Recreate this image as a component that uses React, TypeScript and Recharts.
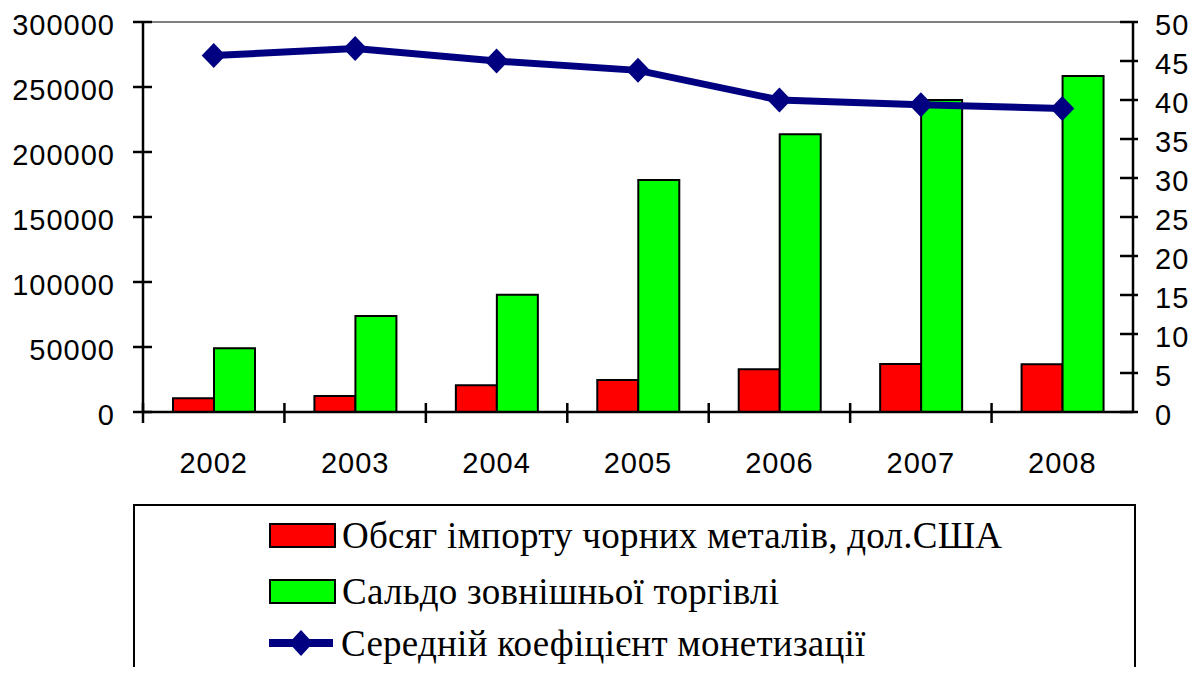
import React from 'react';
import { ComposedChart, Bar, Line, XAxis, YAxis, ReferenceLine } from 'recharts';

const years = ['2002', '2003', '2004', '2005', '2006', '2007', '2008'];
const importValues = [10500, 12300, 20500, 24600, 32800, 36900, 36700];
const balanceValues = [49000, 73900, 90200, 178500, 213600, 240000, 258500];
const monetization = [45.7, 46.6, 45.0, 43.8, 40.0, 39.4, 38.9];
const leftTicks = [0, 50000, 100000, 150000, 200000, 250000, 300000];
const rightTicks = [0, 5, 10, 15, 20, 25, 30, 35, 40, 45, 50];
const seriesNames = [
  'Обсяг імпорту чорних металів, дол.США',
  'Сальдо зовнішньої торгівлі',
  'Середній коефіцієнт монетизації',
];

const data = years.map((y, i) => ({
  year: y,
  imp: importValues[i],
  bal: balanceValues[i],
  mon: monetization[i],
}));

const AXIS_FONT = '"Liberation Sans", Arial, sans-serif';

const LeftTick = (props: any) => {
  const { x, y, payload } = props;
  return (
    <g>
      <line x1={x - 10} x2={x + 9} y1={y} y2={y} stroke="#000" strokeWidth={2.5} />
      <text x={x - 28} y={y + 13} textAnchor="end" fontSize={29} letterSpacing={1} fontFamily={AXIS_FONT} fill="#000">
        {payload.value}
      </text>
    </g>
  );
};

const RightTick = (props: any) => {
  const { x, y, payload } = props;
  return (
    <g>
      <line x1={x - 13} x2={x + 5} y1={y} y2={y} stroke="#000" strokeWidth={2.5} />
      <text x={x + 22} y={y + 13} textAnchor="start" fontSize={29} letterSpacing={1} fontFamily={AXIS_FONT} fill="#000">
        {payload.value}
      </text>
    </g>
  );
};

const BottomTick = (props: any) => {
  const { x, y, payload } = props;
  const half = payload.offset || 70.7;
  return (
    <g>
      <line x1={x - half} x2={x - half} y1={y - 9} y2={y + 11} stroke="#000" strokeWidth={2.5} />
      <text x={x} y={y + 61} textAnchor="middle" fontSize={29} letterSpacing={1} fontFamily={AXIS_FONT} fill="#000">
        {payload.value}
      </text>
    </g>
  );
};

const Diamond = (props: any) => {
  const { cx, cy } = props;
  if (cx == null || cy == null) return null;
  return (
    <path
      d={`M${cx - 12},${cy} L${cx},${cy - 12.5} L${cx + 12},${cy} L${cx},${cy + 12.5} Z`}
      fill="#000080"
      stroke="none"
    />
  );
};

const LegendBox = () => {
  const rowStyle: React.CSSProperties = {
    position: 'absolute',
    left: 0,
    height: 40,
    display: 'flex',
    alignItems: 'center',
  };
  const textStyle: React.CSSProperties = {
    fontFamily: '"Liberation Serif", "Times New Roman", serif',
    fontSize: 37,
    letterSpacing: 0.25,
    color: '#000',
    whiteSpace: 'nowrap',
    marginLeft: 6,
  };
  return (
    <div
      style={{
        position: 'absolute',
        left: 133,
        top: 504,
        width: 1003,
        height: 200,
        border: '2px solid #000',
        boxSizing: 'border-box',
        background: '#fff',
      }}
    >
      <div style={{ position: 'absolute', left: 134, top: 10, width: 860, height: 170 }}>
        <div style={{ ...rowStyle, top: -0.5 }}>
          <div style={{ width: 63, height: 21, background: '#FF0000', border: '2px solid #000' }} />
          <span style={textStyle}>{seriesNames[0]}</span>
        </div>
        <div style={{ ...rowStyle, top: 55.5 }}>
          <div style={{ width: 63, height: 21, background: '#00FF00', border: '2px solid #000' }} />
          <span style={textStyle}>{seriesNames[1]}</span>
        </div>
        <div style={{ ...rowStyle, top: 107 }}>
          <svg width={67} height={28}>
            <line x1={0} x2={64} y1={14} y2={14} stroke="#000080" strokeWidth={8} />
            <path d="M20,14 L32,1 L44,14 L32,27 Z" fill="#000080" />
          </svg>
          <span style={{ ...textStyle, marginLeft: 5 }}>{seriesNames[2]}</span>
        </div>
      </div>
    </div>
  );
};

export default function App() {
  return (
    <div style={{ position: 'relative', margin: -8, width: 1196, height: 675, overflow: 'hidden', background: '#fff' }}>
      <ComposedChart
        width={1196}
        height={675}
        data={data}
        margin={{ top: 22, right: 0, bottom: 0, left: 0 }}
        barCategoryGap={30}
        barGap={0}
      >
        <XAxis
          dataKey="year"
          xAxisId="x"
          height={263}
          tickLine={false}
          tickSize={0}
          tickMargin={0}
          tick={<BottomTick />}
          axisLine={{ stroke: '#000', strokeWidth: 2.5 }}
          interval={0}
        />
        <YAxis
          yAxisId="left"
          orientation="left"
          width={143}
          domain={[0, 300000]}
          ticks={leftTicks}
          tickLine={false}
          tickSize={0}
          tickMargin={0}
          tick={<LeftTick />}
          axisLine={{ stroke: '#000', strokeWidth: 2.5 }}
          interval={0}
        />
        <YAxis
          yAxisId="right"
          orientation="right"
          width={63}
          domain={[0, 50]}
          ticks={rightTicks}
          tickLine={false}
          tickSize={0}
          tickMargin={0}
          tick={<RightTick />}
          axisLine={{ stroke: '#000', strokeWidth: 2.5 }}
          interval={0}
        />
        <ReferenceLine xAxisId="x" yAxisId="left" y={300000} stroke="#808080" strokeWidth={2} />
        <Bar xAxisId="x" yAxisId="left" dataKey="imp" name={seriesNames[0]} fill="#FF0000" stroke="#000" strokeWidth={2} isAnimationActive={false} />
        <Bar xAxisId="x" yAxisId="left" dataKey="bal" name={seriesNames[1]} fill="#00FF00" stroke="#000" strokeWidth={2} isAnimationActive={false} />
        <Line
          xAxisId="x"
          yAxisId="right"
          dataKey="mon"
          name={seriesNames[2]}
          stroke="#000080"
          strokeWidth={7}
          dot={<Diamond />}
          activeDot={false}
          isAnimationActive={false}
        />
      </ComposedChart>
      <LegendBox />
    </div>
  );
}
